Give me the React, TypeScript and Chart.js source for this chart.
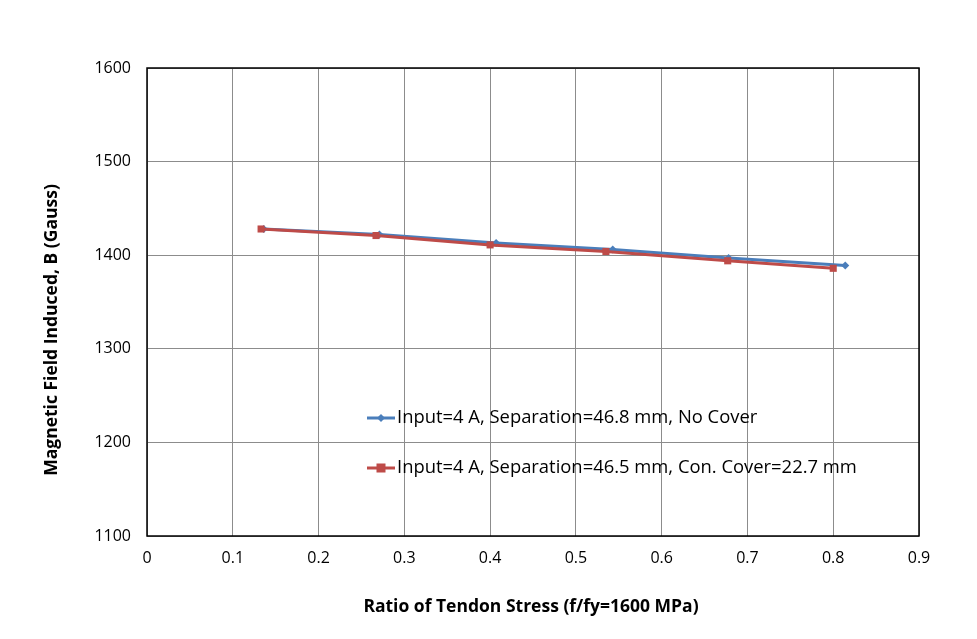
import React, { useEffect, useRef } from "react";
import { Chart, registerables } from "chart.js";

Chart.register(...registerables);

const seriesNames = [
  "Input=4 A, Separation=46.8 mm, No Cover",
  "Input=4 A, Separation=46.5 mm, Con. Cover=22.7 mm",
];
const noCoverX = [0.136, 0.271, 0.407, 0.543, 0.678, 0.814];
const noCoverY = [1428, 1422, 1413, 1406, 1397, 1389];
const coverX = [0.133, 0.267, 0.4, 0.535, 0.677, 0.8];
const coverY = [1428, 1421, 1411, 1404, 1394, 1386];
const xTicks = [0, 0.1, 0.2, 0.3, 0.4, 0.5, 0.6, 0.7, 0.8, 0.9];
const yTicks = [1100, 1200, 1300, 1400, 1500, 1600];
const xTitle = "Ratio of Tendon Stress (f/fy=1600 MPa)";
const yTitle = "Magnetic Field Induced, B (Gauss)";

const BLUE = "#4A7EBB";
const RED = "#BE4B48";
const FONT = "'Open Sans', 'Liberation Sans', sans-serif";

const frameAndLegend = {
  id: "frameAndLegend",
  afterDatasetsDraw(chart: any) {
    const { ctx, chartArea } = chart;
    ctx.save();
    ctx.strokeStyle = "#000";
    ctx.lineWidth = 1.5;
    ctx.strokeRect(chartArea.left, chartArea.top, chartArea.right - chartArea.left, chartArea.bottom - chartArea.top);
    const rows = [
      { y: 418, color: BLUE, style: "diamond", text: seriesNames[0] },
      { y: 468, color: RED, style: "square", text: seriesNames[1] },
    ];
    ctx.font = `18.4px ${FONT}`;
    ctx.textBaseline = "middle";
    rows.forEach((r) => {
      ctx.strokeStyle = r.color;
      ctx.lineWidth = 3;
      ctx.beginPath();
      ctx.moveTo(367, r.y);
      ctx.lineTo(395, r.y);
      ctx.stroke();
      ctx.fillStyle = r.color;
      if (r.style === "diamond") {
        ctx.beginPath();
        ctx.moveTo(381, r.y - 4);
        ctx.lineTo(385, r.y);
        ctx.lineTo(381, r.y + 4);
        ctx.lineTo(377, r.y);
        ctx.closePath();
        ctx.fill();
      } else {
        ctx.fillRect(376.5, r.y - 4.5, 9, 9);
      }
      ctx.fillStyle = "#000";
      ctx.fillText(r.text, 397, r.y);
    });
    // titles
    ctx.fillStyle = "#000";
    ctx.font = `bold 17.5px ${FONT}`;
    ctx.textAlign = "center";
    ctx.textBaseline = "middle";
    ctx.fillText(xTitle, 531, 607);
    ctx.translate(52, 330);
    ctx.rotate(-Math.PI / 2);
    ctx.fillText(yTitle, 0, 0);
    ctx.restore();
  },
};

export default function App() {
  const ref = useRef<HTMLCanvasElement>(null);
  useEffect(() => {
    if (!ref.current) return;
    const chart = new Chart(ref.current, {
      type: "scatter",
      data: {
        datasets: [
          {
            label: seriesNames[0],
            data: noCoverX.map((x, i) => ({ x, y: noCoverY[i] })),
            showLine: true,
            borderColor: BLUE,
            backgroundColor: BLUE,
            borderWidth: 3,
            pointStyle: "rectRot",
            pointRadius: 4,
            pointBorderWidth: 0,
            order: 1,
          },
          {
            label: seriesNames[1],
            data: coverX.map((x, i) => ({ x, y: coverY[i] })),
            showLine: true,
            borderColor: RED,
            backgroundColor: RED,
            borderWidth: 3,
            pointStyle: "rect",
            pointRadius: 5,
            pointBorderWidth: 0,
            order: 0,
          },
        ],
      },
      options: {
        responsive: false,
        animation: false,
        layout: { padding: { top: 68, right: 58, left: 0, bottom: 0 } },
        plugins: { legend: { display: false }, tooltip: { enabled: false } },
        scales: {
          x: {
            type: "linear",
            min: 0,
            max: 0.9,
            afterBuildTicks: (axis: any) => {
              axis.ticks = xTicks.map((v) => ({ value: v }));
            },
            afterFit: (axis: any) => {
              axis.height = 103;
            },
            ticks: {
              font: { family: FONT, size: 16 },
              color: "#000",
              padding: 13,
              callback: (v: any) => String(v),
            },
            grid: { color: "#8c8c8c", lineWidth: 1, drawTicks: false },
            border: { display: false },
            title: { display: false },
          },
          y: {
            type: "linear",
            min: 1100,
            max: 1600,
            afterBuildTicks: (axis: any) => {
              axis.ticks = yTicks.map((v) => ({ value: v }));
            },
            afterFit: (axis: any) => {
              axis.width = 147;
            },
            ticks: {
              font: { family: FONT, size: 16 },
              color: "#000",
              padding: 16,
              callback: (v: any) => String(v),
            },
            grid: { color: "#8c8c8c", lineWidth: 1, drawTicks: false },
            border: { display: false },
            title: { display: false },
          },
        },
      },
      plugins: [frameAndLegend],
    });
    return () => chart.destroy();
  }, []);
  return (
    <div style={{ position: "absolute", left: 0, top: 0, width: 977, height: 639, background: "#fff" }}>
      <canvas ref={ref} width={977} height={639} />
    </div>
  );
}
